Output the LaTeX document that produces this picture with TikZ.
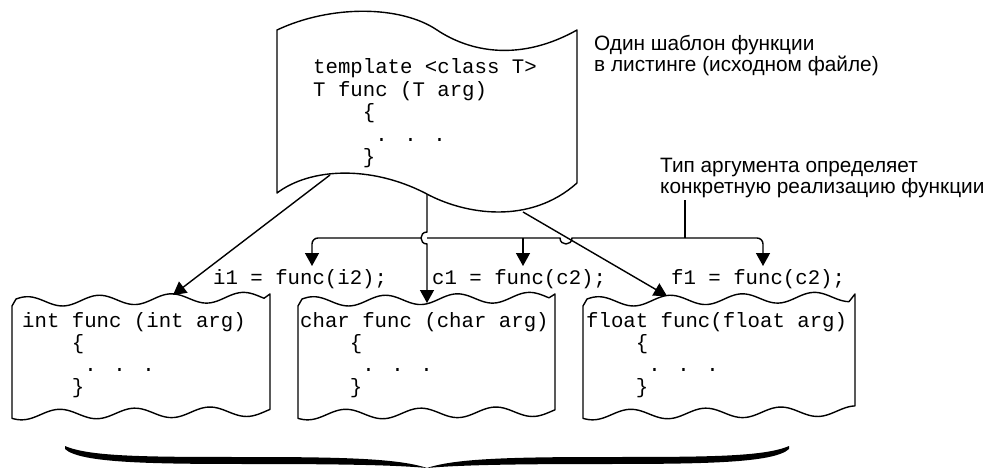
\documentclass[tikz,border=0pt]{standalone}
\usepackage{fontspec}
\setmainfont{Liberation Sans}
\newfontfamily\codefont{Liberation Mono}
\usetikzlibrary{arrows.meta}

\tikzset{
  outline/.style={draw=black, line width=1.4pt, line join=round},
  conn/.style={draw=black, line width=1.4pt},
  arr/.style={conn, -{Triangle[length=13pt,width=14pt]}},
  code/.style={inner sep=0pt, anchor=base west, font=\codefont\fontsize{20.7}{22.5}\selectfont},
  note/.style={inner sep=0pt, anchor=base west, font=\fontsize{20.8}{21}\selectfont},
}
\newcommand\codeblock[2]{\vtop{\baselineskip=#1pt #2}}
\newcommand\ind[1]{\hphantom{#1}}
% wavy box: #1 = left x, #2 = right x
\newcommand\wavebox[2]{%
  \draw[outline]
    plot[domain=#1:#2, samples=90, smooth] (\x, {415 - 0.015*(\x-#1) + 5*cos(4.8*(\x-#1-10))})
    -- (#2,294)
    -- plot[domain=#2-6:#1+4, samples=90, smooth] (\x, {302 - 0.02*(\x-#1) - 5*cos(5*(\x-#1-15))})
    -- (#1,306) -- cycle;}

\begin{document}
\begin{tikzpicture}[x=1pt,y=-1pt]
\useasboundingbox (0,0) rectangle (991,468);

% template sheet
\draw[outline] (277,30) .. controls (330,5) and (400,5) .. (437,30)
  .. controls (470,52) and (520,62) .. (577,30) -- (577,183)
  .. controls (530,225) and (465,215) .. (425,193)
  .. controls (370,165) and (310,168) .. (277,193) -- cycle;
\node[code] (tmpl) at (313,74) {\codeblock{22.5}{%
  \hbox{template <class T>}
  \hbox{T func (T arg)}
  \hbox{\ind{0000}\{}
  \hbox{\ind{00000}. . .}
  \hbox{\ind{0000}\}}}};

% notes
\node[note] (note1) at (594,51) {\codeblock{21}{%
  \hbox{Один шаблон функции}
  \hbox{в листинге (исходном файле)}}};
\node[note] (note2) at (660,172) {\codeblock{21}{%
  \hbox{Тип аргумента определяет}
  \hbox{конкретную реализацию функции}}};

% instantiated functions
\wavebox{12}{270}
\wavebox{298}{555}
\wavebox{583}{855}
\node[code] (intc) at (22,327) {\codeblock{22}{%
  \hbox{int func (int arg)}
  \hbox{\ind{0000}\{}
  \hbox{\ind{00000}. . .}
  \hbox{\ind{0000}\}}}};
\node[code] (charc) at (300,327) {\codeblock{22}{%
  \hbox{char func (char arg)}
  \hbox{\ind{0000}\{}
  \hbox{\ind{00000}. . .}
  \hbox{\ind{0000}\}}}};
\node[code] (floatc) at (586,327) {\codeblock{22}{%
  \hbox{float func(float arg)}
  \hbox{\ind{0000}\{}
  \hbox{\ind{00000}. . .}
  \hbox{\ind{0000}\}}}};

% calls
\node[code] (callI) at (213,284) {i1 = func(i2);};
\node[code] (callC) at (432,284) {c1 = func(c2);};
\node[code] (callF) at (671,284) {f1 = func(c2);};

% connection points
\coordinate (tsL) at (330,175);
\coordinate (tsM) at (427,194);
\coordinate (tsR) at (523,212);
\coordinate (intTop) at (173,295);
\coordinate (charTop) at (427,303);
\coordinate (floatTop) at (667,296);
\coordinate (noteFoot) at (685,200);
\coordinate (bus) at (685,238);
\coordinate (aI) at (312,266);
\coordinate (aC) at (523,266);
\coordinate (aF) at (763,266);

% template -> instances
\draw[arr] (tsL) -- (intTop);
\draw[arr] (tsM) -- (427,232) .. controls (419,232) and (419,244) .. (427,244) -- (charTop);
\draw[arr] (tsR) -- (floatTop);

% argument type bus
\draw[conn] (noteFoot) -- (bus);
\draw[conn] (427,238) -- (560,238) .. controls (560,246) and (572,246) .. (572,238) -- (bus);
\draw[arr, rounded corners=6pt] (421,238) -- (aI |- bus) -- (aI);
\draw[arr, rounded corners=6pt] (bus) -- (aF |- bus) -- (aF);
\draw[arr] (aC |- bus) -- (aC);

% brace
\fill[black] (65,446) .. controls (90,457) and (150,457) .. (250,457)
  .. controls (350,457) and (400,459) .. (427,468)
  .. controls (395,465) and (340,464) .. (250,464)
  .. controls (150,464) and (80,463) .. (65,449) -- cycle;
\fill[black] (789,446) .. controls (764,457) and (704,457) .. (604,457)
  .. controls (504,457) and (454,459) .. (427,468)
  .. controls (459,465) and (514,464) .. (604,464)
  .. controls (704,464) and (774,463) .. (789,449) -- cycle;
\end{tikzpicture}
\end{document}
